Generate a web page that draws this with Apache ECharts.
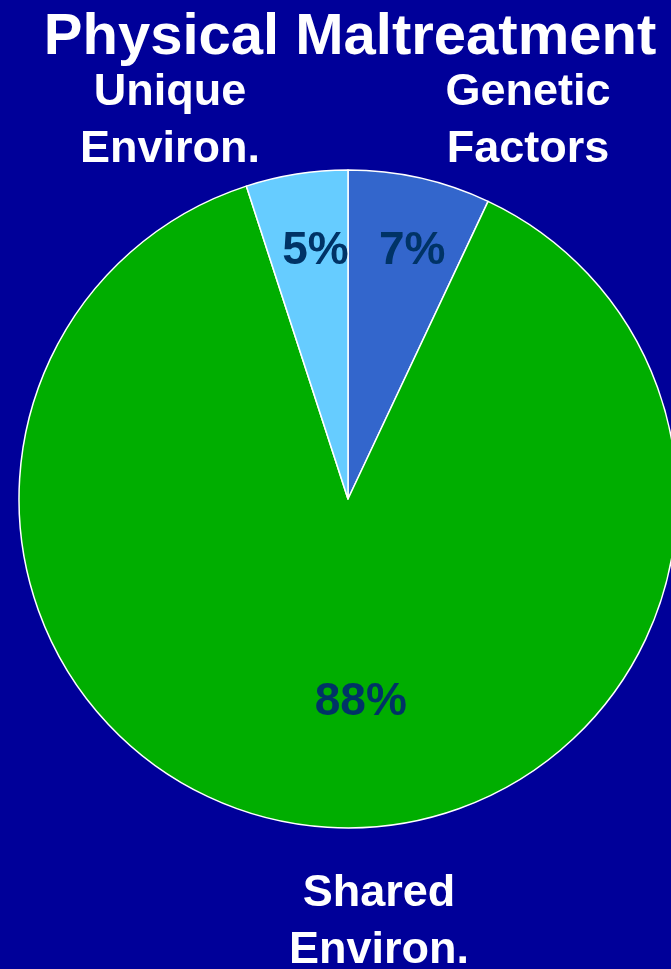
<!DOCTYPE html>
<html>
<head>
<meta charset="utf-8">
<script src="https://cdn.jsdelivr.net/npm/echarts@6/dist/echarts.min.js"></script>
<style>
  html, body { margin: 0; padding: 0; background: #000099; }
  #chart { width: 671px; height: 969px; }
</style>
</head>
<body>
<div id="chart"></div>
<script>
// Sources of variance in physical maltreatment (percent)
const chartTitle = 'Physical Maltreatment';
const categories = ['Genetic\nFactors', 'Shared\nEnviron.', 'Unique\nEnviron.'];
const values = [7, 88, 5];

// Styling (kept apart from the data)
const sliceColors = ['#3366CC', '#00AE00', '#66CCFF'];
const FONT = '"Liberation Sans", Arial, sans-serif';
// nudges for the percentage labels, relative to the default inside position
const pctOffsets = [[27.6, -84.5], [23.3, 35.8], [-6.3, -82.5]];
// anchor points (centre x, top y) for the category captions
const captionAnchors = [[528, 64], [379, 865], [170, 64]];

const chart = echarts.init(document.getElementById('chart'), null, { renderer: 'canvas' });

const captionTitles = categories.map((name, i) => ({
  text: name,
  left: captionAnchors[i][0],
  top: captionAnchors[i][1],
  padding: 0,
  textAlign: 'center',
  textStyle: {
    color: '#FFFFFF',
    fontFamily: FONT,
    fontWeight: 'bold',
    fontSize: 45,
    lineHeight: 57
  }
}));

chart.setOption({
  backgroundColor: '#000099',
  animation: false,
  title: [{
    text: chartTitle,
    left: 350,
    top: 9,
    padding: 0,
    textAlign: 'center',
    textStyle: {
      color: '#FFFFFF',
      fontFamily: FONT,
      fontWeight: 'bold',
      fontSize: 58,
      lineHeight: 58
    }
  }].concat(captionTitles),
  series: [{
    type: 'pie',
    center: [348, 499],
    radius: [0, 329],
    startAngle: 90,
    clockwise: true,
    avoidLabelOverlap: false,
    silent: true,
    itemStyle: { borderColor: '#FFFFFF', borderWidth: 1.5 },
    label: {
      show: true,
      position: 'inside',
      formatter: '{d}%',
      color: '#003366',
      fontFamily: FONT,
      fontWeight: 'bold',
      fontSize: 46
    },
    labelLine: { show: false },
    labelLayout: (params) => ({
      dx: pctOffsets[params.dataIndex][0],
      dy: pctOffsets[params.dataIndex][1]
    }),
    data: categories.map((name, i) => ({
      name: name,
      value: values[i],
      itemStyle: { color: sliceColors[i] }
    }))
  }]
});
</script>
</body>
</html>
